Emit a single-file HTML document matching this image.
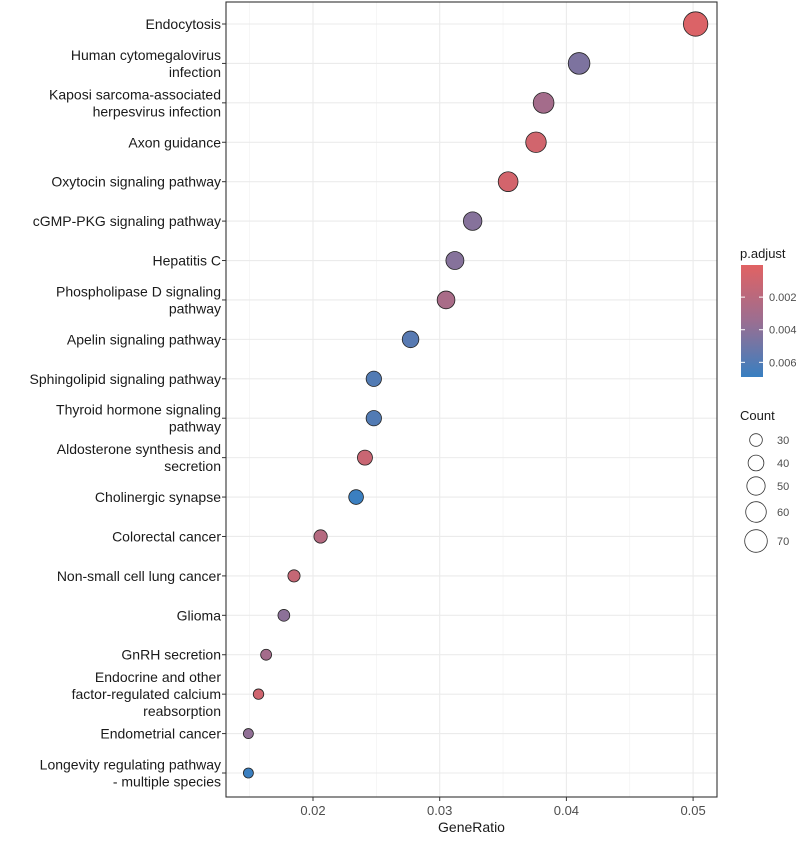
<!DOCTYPE html>
<html><head><meta charset="utf-8"><style>
body{margin:0;background:#fff;}
svg text{font-family:"Liberation Sans",Arial,sans-serif;}
</style></head><body>
<svg id="chart" width="800" height="836" xmlns="http://www.w3.org/2000/svg"></svg>
<script>
const categories=["Endocytosis","Human cytomegalovirus\ninfection","Kaposi sarcoma-associated\nherpesvirus infection","Axon guidance","Oxytocin signaling pathway","cGMP-PKG signaling pathway","Hepatitis C","Phospholipase D signaling\npathway","Apelin signaling pathway","Sphingolipid signaling pathway","Thyroid hormone signaling\npathway","Aldosterone synthesis and\nsecretion","Cholinergic synapse","Colorectal cancer","Non-small cell lung cancer","Glioma","GnRH secretion","Endocrine and other\nfactor-regulated calcium\nreabsorption","Endometrial cancer","Longevity regulating pathway\n- multiple species"];
const geneRatio=[0.0502,0.0410,0.0382,0.0376,0.0354,0.0326,0.0312,0.0305,0.0277,0.0248,0.0248,0.0241,0.0234,0.0206,0.0185,0.0177,0.0163,0.0157,0.0149,0.0149];
const counts=[73,60,56,55,52,47,45,44,40,36,36,35,34,30,27,26,24,23,22,22];
const padj=[0.0003,0.0045,0.003,0.0008,0.0007,0.0042,0.0042,0.0028,0.0058,0.006,0.006,0.0012,0.0068,0.0022,0.0014,0.004,0.003,0.0009,0.0038,0.0068];
const xTicks=[0.02,0.03,0.04,0.05];
const pTicks=[0.002,0.004,0.006];
const countTicks=[30,40,50,60,70];

const svg=document.getElementById('chart');
const NS='http://www.w3.org/2000/svg';
function mk(tag,attrs,parent){const e=document.createElementNS(NS,tag);for(const k in attrs)e.setAttribute(k,attrs[k]);(parent||svg).appendChild(e);return e;}
const L=226,R=717,T=2,B=797;
const xs=v=>313+(v-0.02)*12670;
const ys=i=>24+i*(773-24)/19;
const rs=c=>Math.sqrt(Math.max(1,-28.4+2.43*c));
function lerp(a,b,t){return a.map((v,i)=>Math.round(v+(b[i]-v)*t));}
function col(p){const lo=0.00003,hi=0.0069;let t=(p-lo)/(hi-lo);t=Math.max(0,Math.min(1,t));
 const s=[[225,98,99],[155,110,145],[56,127,193]];
 const c=t<0.5?lerp(s[0],s[1],t*2):lerp(s[1],s[2],(t-0.5)*2);return `rgb(${c})`;}

const panel=mk('rect',{x:L,y:T,width:R-L,height:B-T,fill:'#fff'});

[0.015,0.025,0.035,0.045].forEach(v=>{mk('line',{x1:xs(v),x2:xs(v),y1:T,y2:B,stroke:'#f0f0f0','stroke-width':0.6});});
xTicks.forEach(v=>{const g=mk('line',{x1:xs(v),x2:xs(v),y1:T,y2:B,stroke:'#ebebeb','stroke-width':1.1});});
categories.forEach((c,i)=>{mk('line',{x1:L,x2:R,y1:ys(i),y2:ys(i),stroke:'#ebebeb','stroke-width':1.1});});
categories.forEach((c,i)=>{
 const p=mk('circle',{cx:xs(geneRatio[i]),cy:ys(i),r:rs(counts[i]),fill:col(padj[i]),stroke:'#222','stroke-width':0.8});
 
 
});
const border=mk('rect',{x:L,y:T,width:R-L,height:B-T,fill:'none',stroke:'#333','stroke-width':1.1});

categories.forEach((c,i)=>{
 mk('line',{x1:L-4,x2:L,y1:ys(i),y2:ys(i),stroke:'#333'});
 const lines=c.split('\n');const lh=17;
 const t=mk('text',{x:L-5,y:ys(i)-(lines.length-1)*lh/2+5,'text-anchor':'end','font-size':14,fill:'#1a1a1a'});
 
 lines.forEach((ln,j)=>{const s=mk('tspan',{x:L-5,dy:j?lh:0},t);s.textContent=ln;});
});
xTicks.forEach(v=>{mk('line',{x1:xs(v),x2:xs(v),y1:B,y2:B+4,stroke:'#333'});
 const t=mk('text',{x:xs(v),y:B+18,'text-anchor':'middle','font-size':13,fill:'#4d4d4d'});t.textContent=v.toFixed(2);
 });
const xt=mk('text',{x:(L+R)/2,y:B+35,'text-anchor':'middle','font-size':14,fill:'#1a1a1a'});xt.textContent='GeneRatio';

const defs=mk('defs',{});const lg=mk('linearGradient',{id:'cg',x1:0,y1:0,x2:0,y2:1},defs);
[0,0.25,0.5,0.75,1].forEach(o=>{mk('stop',{offset:o,'stop-color':col(0.00003+o*(0.0069-0.00003))},lg);});
const pt=mk('text',{x:740,y:258,'font-size':13,fill:'#1a1a1a'});pt.textContent='p.adjust';

const cb=mk('rect',{x:741,y:265,width:22,height:112,fill:'url(#cg)'});

const py=p=>265+(p-0.00003)/(0.0069-0.00003)*112;
pTicks.forEach(p=>{mk('line',{x1:741,x2:745,y1:py(p),y2:py(p),stroke:'#fff'});mk('line',{x1:759,x2:763,y1:py(p),y2:py(p),stroke:'#fff'});
 const t=mk('text',{x:769,y:py(p)+4,'font-size':11,fill:'#4d4d4d'});t.textContent=p.toFixed(3);
 });
const ct=mk('text',{x:740,y:420,'font-size':13,fill:'#1a1a1a'});ct.textContent='Count';

const cys=[440,463,486,512,541];
countTicks.forEach((c,i)=>{const k=mk('circle',{cx:756,cy:cys[i],r:rs(c)*0.95,fill:'none',stroke:'#333','stroke-width':0.8});
 
 const t=mk('text',{x:777,y:cys[i]+4,'font-size':11,fill:'#4d4d4d'});t.textContent=c;
 });
</script>
</body></html>
